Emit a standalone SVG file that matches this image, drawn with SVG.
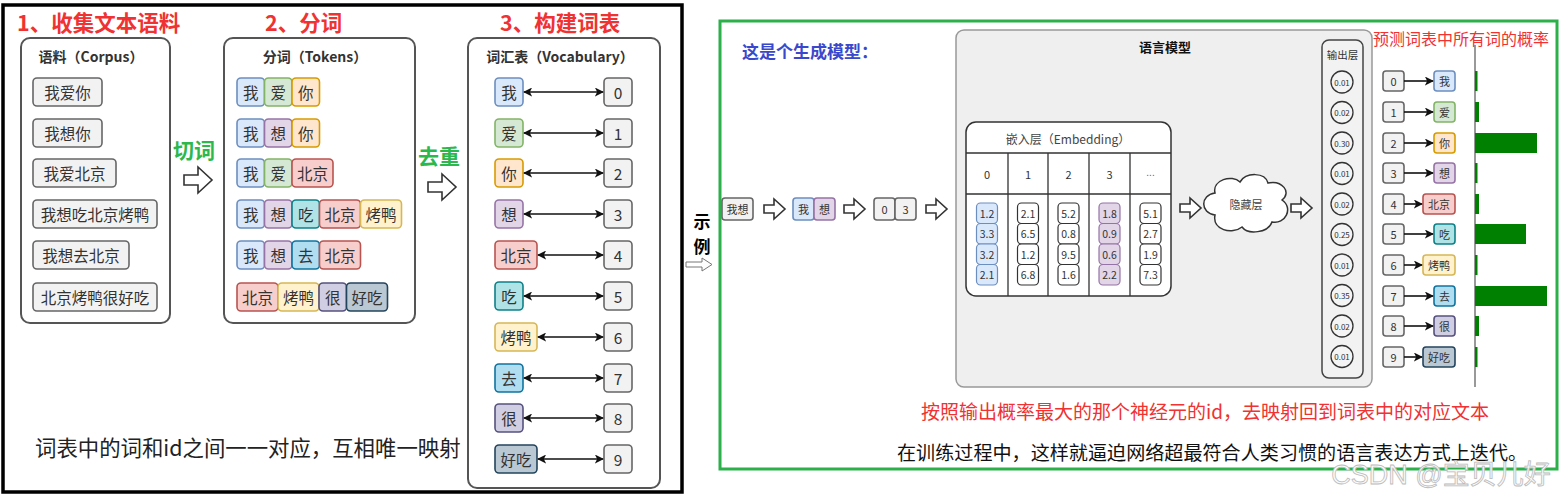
<svg xmlns="http://www.w3.org/2000/svg" width="1564" height="499" viewBox="0 0 1564 499">
<defs>
<style>
text{font-family:"Noto Sans CJK SC","Noto Sans",sans-serif;dominant-baseline:central;text-anchor:middle;fill:#333}
.title{font-size:21.5px;font-weight:bold;fill:#f03232;text-anchor:start}
.green{font-size:21px;font-weight:bold;fill:#2db84d;text-anchor:start}
.hd{font-size:14px;font-weight:bold;fill:#333}
.item{font-size:15.5px}
.box{stroke-width:1.6}
.gray{fill:#f2f2f2;stroke:#666}
.c0{fill:#dae8fc;stroke:#6c8ebf}
.c1{fill:#d5e8d4;stroke:#82b366}
.c2{fill:#ffe6cc;stroke:#d79b00}
.c3{fill:#e1d5e7;stroke:#9673a6}
.c4{fill:#f8cecc;stroke:#b85450}
.c5{fill:#b0e3e6;stroke:#0e8088}
.c6{fill:#fff2cc;stroke:#d6b656}
.c7{fill:#b1ddf0;stroke:#10739e}
.c8{fill:#d0cee2;stroke:#56517e}
.c9{fill:#bac8d3;stroke:#23445d}
.cw{fill:#fff;stroke:#333}
.panel{fill:#fff;stroke:#555;stroke-width:2}
.harrow{fill:#fff;stroke:#333;stroke-width:1.6;stroke-linejoin:miter}
.conn{stroke:#111;stroke-width:1.6;fill:none}
.sm{font-size:11px}
.val{font-size:10.5px}
.circ{fill:#f4f4f4;stroke:#333;stroke-width:1.3}
.bar{fill:#008000}
</style>
<marker id="ah" viewBox="0 0 10 10" refX="9" refY="5" markerWidth="9" markerHeight="9" orient="auto-start-reverse" markerUnits="userSpaceOnUse">
<path d="M0,0 L10,5 L0,10 L2.5,5 Z" fill="#111"/>
</marker>
<path id="blk" d="M0,-5 L14,-5 L14,-13 L28,0 L14,13 L14,5 L0,5 Z"/>
<path id="blks" d="M0,-4 L10,-4 L10,-10 L21,0 L10,10 L10,4 L0,4 Z"/>
</defs>

<rect width="1564" height="499" fill="#fff"/>

<!-- Left panel -->
<g id="left-panel">
<rect x="3" y="5" width="679" height="487" fill="#fff" stroke="#000" stroke-width="3.5"/>
<text class="title" x="17" y="21">1、收集文本语料</text>
<text class="title" x="265" y="21">2、分词</text>
<text class="title" x="500" y="21">3、构建词表</text>
<text x="35" y="446" style="font-size:21.4px;text-anchor:start;fill:#222">词表中的词和id之间一一对应，互相唯一映射</text>
</g>

<g id="corpus">
<rect class="panel" x="21" y="38" width="149" height="285" rx="9"/>
<text class="hd" x="91" y="56">语料（Corpus）</text>
<rect class="box gray" x="33" y="78" width="69" height="28" rx="4"/><text class="item" x="67.5" y="92">我爱你</text>
<rect class="box gray" x="33" y="119" width="69" height="28" rx="4"/><text class="item" x="67.5" y="133">我想你</text>
<rect class="box gray" x="33" y="159" width="83" height="28" rx="4"/><text class="item" x="74.5" y="173">我爱北京</text>
<rect class="box gray" x="33" y="200" width="124" height="28" rx="4"/><text class="item" x="95" y="214">我想吃北京烤鸭</text>
<rect class="box gray" x="33" y="241" width="96" height="28" rx="4"/><text class="item" x="81" y="255">我想去北京</text>
<rect class="box gray" x="33" y="283" width="124" height="28" rx="4"/><text class="item" x="95" y="297">北京烤鸭很好吃</text>
</g>

<g id="step-cut">
<text class="green" x="173" y="149">切词</text>
<use href="#blk" x="184" y="180" class="harrow"/>
</g>

<g id="tokens">
<rect class="panel" x="224" y="38" width="191" height="285" rx="9"/>
<text class="hd" x="315" y="56">分词（Tokens）</text>
<rect class="box c0" x="237" y="78" width="27.5" height="28" rx="4"/><text class="item" x="250.75" y="92">我</text>
<rect class="box c1" x="264.5" y="78" width="27.5" height="28" rx="4"/><text class="item" x="278.25" y="92">爱</text>
<rect class="box c2" x="292" y="78" width="27.5" height="28" rx="4"/><text class="item" x="305.75" y="92">你</text>
<rect class="box c0" x="237" y="119" width="27.5" height="28" rx="4"/><text class="item" x="250.75" y="133">我</text>
<rect class="box c3" x="264.5" y="119" width="27.5" height="28" rx="4"/><text class="item" x="278.25" y="133">想</text>
<rect class="box c2" x="292" y="119" width="27.5" height="28" rx="4"/><text class="item" x="305.75" y="133">你</text>
<rect class="box c0" x="237" y="159" width="27.5" height="28" rx="4"/><text class="item" x="250.75" y="173">我</text>
<rect class="box c1" x="264.5" y="159" width="27.5" height="28" rx="4"/><text class="item" x="278.25" y="173">爱</text>
<rect class="box c4" x="292" y="159" width="41" height="28" rx="4"/><text class="item" x="312.5" y="173">北京</text>
<rect class="box c0" x="237" y="200" width="27.5" height="28" rx="4"/><text class="item" x="250.75" y="214">我</text>
<rect class="box c3" x="264.5" y="200" width="27.5" height="28" rx="4"/><text class="item" x="278.25" y="214">想</text>
<rect class="box c5" x="292" y="200" width="27.5" height="28" rx="4"/><text class="item" x="305.75" y="214">吃</text>
<rect class="box c4" x="319.5" y="200" width="41" height="28" rx="4"/><text class="item" x="340" y="214">北京</text>
<rect class="box c6" x="360.5" y="200" width="41" height="28" rx="4"/><text class="item" x="381" y="214">烤鸭</text>
<rect class="box c0" x="237" y="241" width="27.5" height="28" rx="4"/><text class="item" x="250.75" y="255">我</text>
<rect class="box c3" x="264.5" y="241" width="27.5" height="28" rx="4"/><text class="item" x="278.25" y="255">想</text>
<rect class="box c7" x="292" y="241" width="27.5" height="28" rx="4"/><text class="item" x="305.75" y="255">去</text>
<rect class="box c4" x="319.5" y="241" width="41" height="28" rx="4"/><text class="item" x="340" y="255">北京</text>
<rect class="box c4" x="237" y="283" width="41" height="28" rx="4"/><text class="item" x="257.5" y="297">北京</text>
<rect class="box c6" x="278" y="283" width="41" height="28" rx="4"/><text class="item" x="298.5" y="297">烤鸭</text>
<rect class="box c8" x="319" y="283" width="27.5" height="28" rx="4"/><text class="item" x="332.75" y="297">很</text>
<rect class="box c9" x="346.5" y="283" width="41" height="28" rx="4"/><text class="item" x="367" y="297">好吃</text>
</g>

<g id="step-dedup">
<text class="green" x="418" y="155">去重</text>
<use href="#blk" x="428" y="187" class="harrow"/>
</g>

<g id="vocab">
<rect class="panel" x="468" y="38" width="192" height="450" rx="9"/>
<text class="hd" x="560" y="56">词汇表（Vocabulary）</text>
<rect class="box c0" x="495" y="78" width="28" height="28" rx="4"/><text class="item" x="509" y="92">我</text>
<rect class="box c1" x="495" y="119" width="28" height="28" rx="4"/><text class="item" x="509" y="133">爱</text>
<rect class="box c2" x="495" y="159" width="28" height="28" rx="4"/><text class="item" x="509" y="173">你</text>
<rect class="box c3" x="495" y="200" width="28" height="28" rx="4"/><text class="item" x="509" y="214">想</text>
<rect class="box c4" x="495" y="241" width="42" height="28" rx="4"/><text class="item" x="516" y="255">北京</text>
<rect class="box c5" x="495" y="282" width="28" height="28" rx="4"/><text class="item" x="509" y="296">吃</text>
<rect class="box c6" x="495" y="323" width="42" height="28" rx="4"/><text class="item" x="516" y="337">烤鸭</text>
<rect class="box c7" x="495" y="364" width="28" height="28" rx="4"/><text class="item" x="509" y="378">去</text>
<rect class="box c8" x="495" y="404" width="28" height="28" rx="4"/><text class="item" x="509" y="418">很</text>
<rect class="box c9" x="495" y="445" width="42" height="28" rx="4"/><text class="item" x="516" y="459">好吃</text>
<rect class="box gray" x="604" y="78" width="28" height="28" rx="4"/><text class="item" x="618" y="92">0</text>
<rect class="box gray" x="604" y="119" width="28" height="28" rx="4"/><text class="item" x="618" y="133">1</text>
<rect class="box gray" x="604" y="159" width="28" height="28" rx="4"/><text class="item" x="618" y="173">2</text>
<rect class="box gray" x="604" y="200" width="28" height="28" rx="4"/><text class="item" x="618" y="214">3</text>
<rect class="box gray" x="604" y="241" width="28" height="28" rx="4"/><text class="item" x="618" y="255">4</text>
<rect class="box gray" x="604" y="282" width="28" height="28" rx="4"/><text class="item" x="618" y="296">5</text>
<rect class="box gray" x="604" y="323" width="28" height="28" rx="4"/><text class="item" x="618" y="337">6</text>
<rect class="box gray" x="604" y="364" width="28" height="28" rx="4"/><text class="item" x="618" y="378">7</text>
<rect class="box gray" x="604" y="404" width="28" height="28" rx="4"/><text class="item" x="618" y="418">8</text>
<rect class="box gray" x="604" y="445" width="28" height="28" rx="4"/><text class="item" x="618" y="459">9</text>
</g>

<g id="example-label">
<text x="702" y="220" style="font-size:17px;font-weight:bold;fill:#000">示</text>
<text x="702" y="245" style="font-size:17px;font-weight:bold;fill:#000">例</text>
<path d="M686,262 L702,262 L702,258 L712,264.5 L702,271 L702,267 L686,267 Z" fill="#fff" stroke="#777" stroke-width="1"/>
</g>

<!-- Right panel -->
<g id="right-panel">
<rect x="720" y="21" width="837" height="448" fill="#fff" stroke="#2bb04a" stroke-width="3"/>
<text x="742" y="50" style="font-size:17px;font-weight:bold;fill:#3a48cc;text-anchor:start">这是个生成模型：</text>
<text x="1373" y="38" style="font-size:16px;fill:#f03232;text-anchor:start">预测词表中所有词的概率</text>
<text x="921" y="410" style="font-size:19px;fill:#f03232;text-anchor:start">按照输出概率最大的那个神经元的id，去映射回到词表中的对应文本</text>
<text x="897" y="452" style="font-size:19.1px;fill:#111;text-anchor:start">在训练过程中，这样就逼迫网络超最符合人类习惯的语言表达方式上迭代。</text>
</g>

<g id="input-flow">
<rect class="box gray" x="722" y="198" width="31" height="22" rx="3"/><text class="sm" x="737.5" y="209">我想</text>
<use href="#blks" x="764" y="209" class="harrow"/>
<rect class="box c0" x="793" y="198" width="21" height="22" rx="3"/><text class="sm" x="803.5" y="209">我</text>
<rect class="box c3" x="814" y="198" width="21" height="22" rx="3"/><text class="sm" x="824.5" y="209">想</text>
<use href="#blks" x="844" y="209" class="harrow"/>
<rect class="box gray" x="874" y="198" width="21" height="22" rx="3"/><text class="sm" x="884.5" y="209">0</text>
<rect class="box gray" x="895" y="198" width="21" height="22" rx="3"/><text class="sm" x="905.5" y="209">3</text>
<use href="#blks" x="926" y="209" class="harrow"/>
</g>

<g id="language-model">
<rect x="956" y="30" width="416" height="357" rx="8" fill="#efefef" stroke="#999" stroke-width="1.5"/>
<text x="1165" y="46" style="font-size:13px;font-weight:bold;fill:#111">语言模型</text>
</g>

<g id="embedding">
<rect x="966" y="122" width="205" height="174" rx="10" fill="#fff" stroke="#333" stroke-width="1.5"/>
<path d="M966,153 H1171 M966,194 H1171 M1008,153 V296 M1048,153 V296 M1089,153 V296 M1130,153 V296" stroke="#333" stroke-width="1.3" fill="none"/>
<text x="1068" y="138" style="font-size:12px;fill:#444">嵌入层（Embedding）</text>
<text class="sm" x="987" y="174">0</text>
<text class="sm" x="1028" y="174">1</text>
<text class="sm" x="1068.5" y="174">2</text>
<text class="sm" x="1109.5" y="174">3</text>
<text x="1150.5" y="172" style="font-size:10px;fill:#666;font-family:'Liberation Sans',sans-serif">...</text>
<rect class="c0" x="976.5" y="203" width="21" height="20.5" rx="4" stroke-width="1.2"/><text class="val" x="987" y="213.25">1.2</text>
<rect class="c0" x="976.5" y="223.5" width="21" height="20.5" rx="4" stroke-width="1.2"/><text class="val" x="987" y="233.75">3.3</text>
<rect class="c0" x="976.5" y="244" width="21" height="20.5" rx="4" stroke-width="1.2"/><text class="val" x="987" y="254.25">3.2</text>
<rect class="c0" x="976.5" y="264.5" width="21" height="20.5" rx="4" stroke-width="1.2"/><text class="val" x="987" y="274.75">2.1</text>
<rect class="cw" x="1017.5" y="203" width="21" height="20.5" rx="4" stroke-width="1.2"/><text class="val" x="1028" y="213.25">2.1</text>
<rect class="cw" x="1017.5" y="223.5" width="21" height="20.5" rx="4" stroke-width="1.2"/><text class="val" x="1028" y="233.75">6.5</text>
<rect class="cw" x="1017.5" y="244" width="21" height="20.5" rx="4" stroke-width="1.2"/><text class="val" x="1028" y="254.25">1.2</text>
<rect class="cw" x="1017.5" y="264.5" width="21" height="20.5" rx="4" stroke-width="1.2"/><text class="val" x="1028" y="274.75">6.8</text>
<rect class="cw" x="1058" y="203" width="21" height="20.5" rx="4" stroke-width="1.2"/><text class="val" x="1068.5" y="213.25">5.2</text>
<rect class="cw" x="1058" y="223.5" width="21" height="20.5" rx="4" stroke-width="1.2"/><text class="val" x="1068.5" y="233.75">0.8</text>
<rect class="cw" x="1058" y="244" width="21" height="20.5" rx="4" stroke-width="1.2"/><text class="val" x="1068.5" y="254.25">9.5</text>
<rect class="cw" x="1058" y="264.5" width="21" height="20.5" rx="4" stroke-width="1.2"/><text class="val" x="1068.5" y="274.75">1.6</text>
<rect class="c3" x="1099" y="203" width="21" height="20.5" rx="4" stroke-width="1.2"/><text class="val" x="1109.5" y="213.25">1.8</text>
<rect class="c3" x="1099" y="223.5" width="21" height="20.5" rx="4" stroke-width="1.2"/><text class="val" x="1109.5" y="233.75">0.9</text>
<rect class="c3" x="1099" y="244" width="21" height="20.5" rx="4" stroke-width="1.2"/><text class="val" x="1109.5" y="254.25">0.6</text>
<rect class="c3" x="1099" y="264.5" width="21" height="20.5" rx="4" stroke-width="1.2"/><text class="val" x="1109.5" y="274.75">2.2</text>
<rect class="cw" x="1140" y="203" width="21" height="20.5" rx="4" stroke-width="1.2"/><text class="val" x="1150.5" y="213.25">5.1</text>
<rect class="cw" x="1140" y="223.5" width="21" height="20.5" rx="4" stroke-width="1.2"/><text class="val" x="1150.5" y="233.75">2.7</text>
<rect class="cw" x="1140" y="244" width="21" height="20.5" rx="4" stroke-width="1.2"/><text class="val" x="1150.5" y="254.25">1.9</text>
<rect class="cw" x="1140" y="264.5" width="21" height="20.5" rx="4" stroke-width="1.2"/><text class="val" x="1150.5" y="274.75">7.3</text>
</g>

<g id="hidden-layer">
<use href="#blks" x="1180" y="208" class="harrow"/>
<path d="M1215,215 C1200,213 1200,195 1215,193 C1212,180 1232,174 1240,182 C1246,172 1265,172 1268,183 C1282,180 1292,192 1282,200 C1294,208 1285,225 1272,222 C1268,233 1248,235 1242,227 C1232,235 1212,230 1215,215 Z" fill="#fff" stroke="#333" stroke-width="1.5"/>
<text x="1246" y="204" style="font-size:11px;fill:#444">隐藏层</text>
<use href="#blks" x="1291" y="208" class="harrow"/>
</g>

<g id="output-layer">
<rect x="1322" y="40" width="41" height="338" rx="7" fill="#f2f2f2" stroke="#444" stroke-width="1.5"/>
<text x="1342.5" y="54" style="font-size:10.5px;fill:#333">输出层</text>
<circle class="circ" cx="1342" cy="82" r="11"/><text x="1342" y="82" style="font-size:8px">0.01</text>
<circle class="circ" cx="1342" cy="112.5" r="11"/><text x="1342" y="112.5" style="font-size:8px">0.02</text>
<circle class="circ" cx="1342" cy="143" r="11"/><text x="1342" y="143" style="font-size:8px">0.30</text>
<circle class="circ" cx="1342" cy="173.5" r="11"/><text x="1342" y="173.5" style="font-size:8px">0.01</text>
<circle class="circ" cx="1342" cy="204" r="11"/><text x="1342" y="204" style="font-size:8px">0.02</text>
<circle class="circ" cx="1342" cy="234.5" r="11"/><text x="1342" y="234.5" style="font-size:8px">0.25</text>
<circle class="circ" cx="1342" cy="265" r="11"/><text x="1342" y="265" style="font-size:8px">0.01</text>
<circle class="circ" cx="1342" cy="295.5" r="11"/><text x="1342" y="295.5" style="font-size:8px">0.35</text>
<circle class="circ" cx="1342" cy="326" r="11"/><text x="1342" y="326" style="font-size:8px">0.02</text>
<circle class="circ" cx="1342" cy="356.5" r="11"/><text x="1342" y="356.5" style="font-size:8px">0.01</text>
</g>

<g id="id-mapping">
<rect class="box gray" x="1383" y="71" width="21" height="20" rx="3"/><text class="sm" x="1393.5" y="81">0</text>
<rect class="box gray" x="1383" y="102" width="21" height="20" rx="3"/><text class="sm" x="1393.5" y="112">1</text>
<rect class="box gray" x="1383" y="133" width="21" height="20" rx="3"/><text class="sm" x="1393.5" y="143">2</text>
<rect class="box gray" x="1383" y="163" width="21" height="20" rx="3"/><text class="sm" x="1393.5" y="173">3</text>
<rect class="box gray" x="1383" y="194" width="21" height="20" rx="3"/><text class="sm" x="1393.5" y="204">4</text>
<rect class="box gray" x="1383" y="224" width="21" height="20" rx="3"/><text class="sm" x="1393.5" y="234">5</text>
<rect class="box gray" x="1383" y="255" width="21" height="20" rx="3"/><text class="sm" x="1393.5" y="265">6</text>
<rect class="box gray" x="1383" y="286" width="21" height="20" rx="3"/><text class="sm" x="1393.5" y="296">7</text>
<rect class="box gray" x="1383" y="316" width="21" height="20" rx="3"/><text class="sm" x="1393.5" y="326">8</text>
<rect class="box gray" x="1383" y="347" width="21" height="20" rx="3"/><text class="sm" x="1393.5" y="357">9</text>
<rect class="box c0" x="1434" y="71" width="21" height="20" rx="3"/><text class="sm" x="1444.5" y="81">我</text>
<rect class="box c1" x="1434" y="102" width="21" height="20" rx="3"/><text class="sm" x="1444.5" y="112">爱</text>
<rect class="box c2" x="1434" y="133" width="21" height="20" rx="3"/><text class="sm" x="1444.5" y="143">你</text>
<rect class="box c3" x="1434" y="163" width="21" height="20" rx="3"/><text class="sm" x="1444.5" y="173">想</text>
<rect class="box c4" x="1423" y="194" width="32" height="20" rx="3"/><text class="sm" x="1439" y="204">北京</text>
<rect class="box c5" x="1434" y="224" width="21" height="20" rx="3"/><text class="sm" x="1444.5" y="234">吃</text>
<rect class="box c6" x="1423" y="255" width="32" height="20" rx="3"/><text class="sm" x="1439" y="265">烤鸭</text>
<rect class="box c7" x="1434" y="286" width="21" height="20" rx="3"/><text class="sm" x="1444.5" y="296">去</text>
<rect class="box c8" x="1434" y="316" width="21" height="20" rx="3"/><text class="sm" x="1444.5" y="326">很</text>
<rect class="box c9" x="1423" y="347" width="32" height="20" rx="3"/><text class="sm" x="1439" y="357">好吃</text>
</g>

<g id="prob-chart">
<line x1="1475" y1="45" x2="1475" y2="387" stroke="#777" stroke-width="1.5"/>
<rect class="bar" x="1475" y="71" width="2.5" height="20"/>
<rect class="bar" x="1475" y="102" width="4" height="20"/>
<rect class="bar" x="1475" y="133" width="62" height="20"/>
<rect class="bar" x="1475" y="163" width="2.5" height="20"/>
<rect class="bar" x="1475" y="194" width="4" height="20"/>
<rect class="bar" x="1475" y="224" width="51" height="20"/>
<rect class="bar" x="1475" y="255" width="2.5" height="20"/>
<rect class="bar" x="1475" y="286" width="72" height="20"/>
<rect class="bar" x="1475" y="316" width="4" height="20"/>
<rect class="bar" x="1475" y="347" width="2.5" height="20"/>
</g>

<g id="connectors">
<line class="conn" x1="524" y1="92" x2="603" y2="92" marker-start="url(#ah)" marker-end="url(#ah)"/>
<line class="conn" x1="524" y1="133" x2="603" y2="133" marker-start="url(#ah)" marker-end="url(#ah)"/>
<line class="conn" x1="524" y1="173" x2="603" y2="173" marker-start="url(#ah)" marker-end="url(#ah)"/>
<line class="conn" x1="524" y1="214" x2="603" y2="214" marker-start="url(#ah)" marker-end="url(#ah)"/>
<line class="conn" x1="538" y1="255" x2="603" y2="255" marker-start="url(#ah)" marker-end="url(#ah)"/>
<line class="conn" x1="524" y1="296" x2="603" y2="296" marker-start="url(#ah)" marker-end="url(#ah)"/>
<line class="conn" x1="538" y1="337" x2="603" y2="337" marker-start="url(#ah)" marker-end="url(#ah)"/>
<line class="conn" x1="524" y1="378" x2="603" y2="378" marker-start="url(#ah)" marker-end="url(#ah)"/>
<line class="conn" x1="524" y1="418" x2="603" y2="418" marker-start="url(#ah)" marker-end="url(#ah)"/>
<line class="conn" x1="538" y1="459" x2="603" y2="459" marker-start="url(#ah)" marker-end="url(#ah)"/>
<line class="conn" x1="1404" y1="81" x2="1433" y2="81" marker-end="url(#ah)"/>
<line class="conn" x1="1404" y1="112" x2="1433" y2="112" marker-end="url(#ah)"/>
<line class="conn" x1="1404" y1="143" x2="1433" y2="143" marker-end="url(#ah)"/>
<line class="conn" x1="1404" y1="173" x2="1433" y2="173" marker-end="url(#ah)"/>
<line class="conn" x1="1404" y1="204" x2="1422" y2="204" marker-end="url(#ah)"/>
<line class="conn" x1="1404" y1="234" x2="1433" y2="234" marker-end="url(#ah)"/>
<line class="conn" x1="1404" y1="265" x2="1422" y2="265" marker-end="url(#ah)"/>
<line class="conn" x1="1404" y1="296" x2="1433" y2="296" marker-end="url(#ah)"/>
<line class="conn" x1="1404" y1="326" x2="1433" y2="326" marker-end="url(#ah)"/>
<line class="conn" x1="1404" y1="357" x2="1422" y2="357" marker-end="url(#ah)"/>
</g>

<g id="watermark">
<text x="1441" y="475" style="font-size:27px;fill:#fafafa;stroke:#bbb;stroke-width:0.8;font-family:'Liberation Sans','Noto Sans CJK SC',sans-serif">CSDN @宝贝儿好</text>
</g>
</svg>
